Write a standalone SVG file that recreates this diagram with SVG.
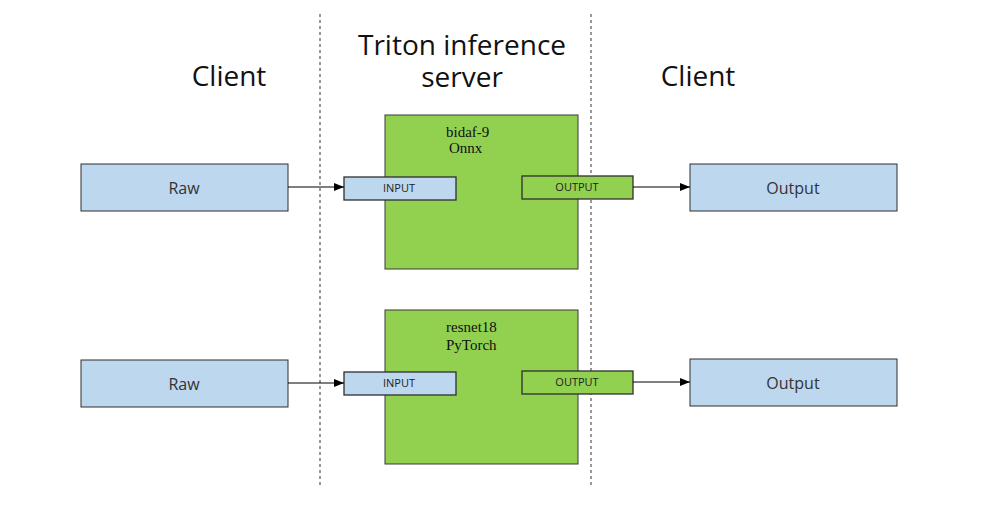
<svg xmlns="http://www.w3.org/2000/svg" width="989" height="522" viewBox="0 0 989 522">
<style>
.blue{fill:#BDD7EE;stroke:#2F2F2F;stroke-width:1}
.green{fill:#92D050;stroke:#3A3A3A;stroke-width:1}
.port{stroke:#2F2F2F;stroke-width:1.3}
.head{font-family:"Open Sans","Noto Sans","DejaVu Sans",sans-serif;font-size:28px;fill:#111;text-anchor:middle}
.lbl{font-family:"Open Sans","Noto Sans","DejaVu Sans",sans-serif;font-size:16px;fill:#333;text-anchor:middle}
.small{font-family:"Open Sans","Noto Sans","DejaVu Sans",sans-serif;font-size:11px;fill:#222;text-anchor:middle}
.model{font-family:"Liberation Serif","DejaVu Serif",serif;font-size:15px;fill:#111}
.dash{stroke:#333;stroke-width:1;stroke-dasharray:3,3}
.conn{stroke:#000;stroke-width:1;fill:none}
</style>
<defs>
<marker id="arr" markerWidth="10" markerHeight="8" refX="10" refY="4" orient="auto" markerUnits="userSpaceOnUse">
<path d="M0,0 L10,4 L0,8 z" fill="#000"/>
</marker>
</defs>
<rect width="989" height="522" fill="#fff"/>
<g id="dividers">
<line class="dash" x1="320" y1="14" x2="320" y2="488"/>
<line class="dash" x1="591" y1="14" x2="591" y2="488"/>
</g>
<g id="headers">
<text class="head" x="229" y="86">Client</text>
<text class="head" x="462" y="55"><tspan x="462">Triton inference</tspan><tspan x="462" dy="32">server</tspan></text>
<text class="head" x="698" y="86">Client</text>
</g>
<g id="raw1"><rect class="blue" x="81" y="164" width="207" height="47"/><text class="lbl" x="184" y="194">Raw</text></g>
<g id="raw2"><rect class="blue" x="81" y="360" width="207" height="47"/><text class="lbl" x="184" y="390">Raw</text></g>
<g id="model1">
<rect class="green" x="385" y="115" width="193" height="154"/>
<text class="model" x="446" y="137">bidaf-9</text>
<text class="model" x="449" y="153">Onnx</text>
</g>
<g id="model2">
<rect class="green" x="385" y="310" width="193" height="154"/>
<text class="model" x="446" y="332">resnet18</text>
<text class="model" x="446" y="350">PyTorch</text>
</g>
<g id="input1"><rect class="blue port" x="344" y="177" width="112" height="23"/><text class="small" x="399" y="192">INPUT</text></g>
<g id="input2"><rect class="blue port" x="344" y="372" width="112" height="23"/><text class="small" x="399" y="387">INPUT</text></g>
<g id="outputport1"><rect class="green port" x="522" y="176" width="111" height="23"/><text class="small" x="577" y="191">OUTPUT</text></g>
<g id="outputport2"><rect class="green port" x="522" y="371" width="111" height="23"/><text class="small" x="577" y="386">OUTPUT</text></g>
<g id="output1"><rect class="blue" x="690" y="164" width="207" height="47"/><text class="lbl" x="793" y="194">Output</text></g>
<g id="output2"><rect class="blue" x="690" y="359" width="207" height="47"/><text class="lbl" x="793" y="389">Output</text></g>
<g id="connectors">
<line class="conn" x1="288" y1="187" x2="344" y2="187" marker-end="url(#arr)"/>
<line class="conn" x1="288" y1="383" x2="344" y2="383" marker-end="url(#arr)"/>
<line class="conn" x1="633" y1="187" x2="690" y2="187" marker-end="url(#arr)"/>
<line class="conn" x1="633" y1="382" x2="690" y2="382" marker-end="url(#arr)"/>
</g>
</svg>
